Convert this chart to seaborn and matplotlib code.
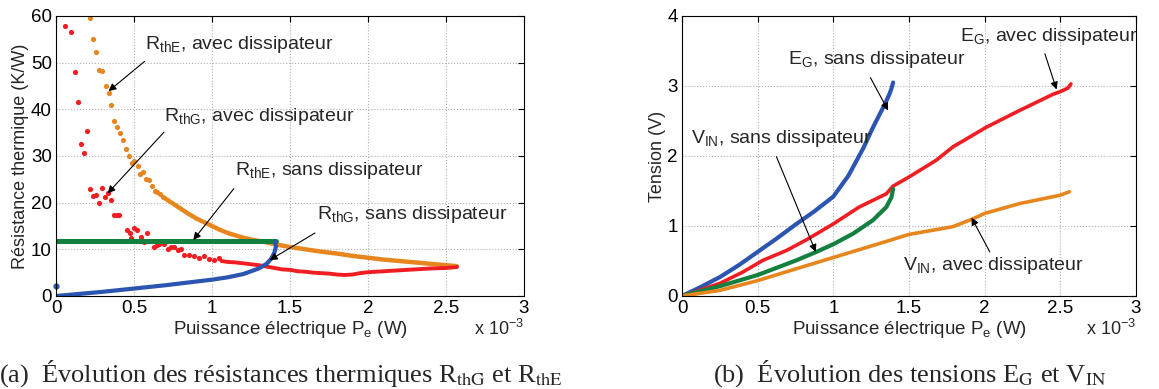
import numpy as np
import pandas as pd
import matplotlib
matplotlib.use("Agg")
import matplotlib.pyplot as plt
import seaborn as sns

# Puissance électrique en unités de 1e-3 W
# --- (a) résistances thermiques ---
rthe_avec_x = [0.217, 0.238, 0.258, 0.277, 0.296, 0.318, 0.337, 0.354, 0.373, 0.393,
               0.412, 0.431, 0.451, 0.47, 0.485, 0.5, 0.524, 0.541, 0.56, 0.579,
               0.594, 0.614, 0.633, 0.65, 0.667, 0.685]
rthe_avec_y = [59.6, 55.0, 52.3, 48.4, 48.2, 44.9, 43.5, 41.0, 37.6, 36.2,
               35.0, 33.5, 31.4, 30.1, 28.4, 28.9, 27.9, 26.1, 26.6, 25.0,
               24.8, 23.6, 22.4, 22.2, 21.8, 21.3]
rthe_avec_dense_x = [0.70, 0.75, 0.80, 0.85, 0.90, 0.95, 1.0, 1.05, 1.1, 1.15, 1.2, 1.25,
                     1.3, 1.35, 1.4, 1.45, 1.5, 1.6, 1.7, 1.8, 1.9, 2.0, 2.1, 2.2,
                     2.3, 2.4, 2.5, 2.57]
rthe_avec_dense_y = [20.9, 19.8, 18.7, 17.6, 16.6, 15.8, 15.0, 14.2, 13.5, 13.0, 12.5, 12.1,
                     11.8, 11.5, 11.1, 10.8, 10.5, 10.0, 9.5, 9.1, 8.6, 8.2, 7.8, 7.5,
                     7.2, 6.9, 6.6, 6.4]

rthg_avec_x = [0.06, 0.099, 0.12, 0.142, 0.159, 0.18, 0.2, 0.217, 0.238, 0.258,
               0.277, 0.296, 0.315, 0.335, 0.352, 0.371, 0.388, 0.406, 0.457, 0.474,
               0.483, 0.5, 0.521, 0.543, 0.564, 0.586, 0.629, 0.646, 0.663, 0.693,
               0.715, 0.736, 0.758, 0.783, 0.8, 0.822, 0.854, 0.886, 0.918, 0.951,
               0.983, 1.015, 1.047]
rthg_avec_y = [57.9, 56.6, 48.0, 41.6, 32.5, 30.6, 35.4, 23.0, 21.4, 21.7,
               19.9, 23.2, 21.2, 22.1, 20.6, 17.3, 17.3, 17.3, 14.1, 13.6,
               12.5, 14.6, 14.1, 12.6, 11.6, 13.4, 10.5, 10.9, 11.1, 11.2,
               10.1, 10.5, 10.5, 9.8, 10.1, 8.7, 8.7, 8.5, 8.2, 8.5,
               8.0, 7.8, 8.2]
rthg_avec_dense_x = [1.06, 1.1, 1.15, 1.2, 1.25, 1.3, 1.35, 1.4, 1.45, 1.5, 1.55, 1.6,
                     1.65, 1.7, 1.75, 1.8, 1.85, 1.9, 1.95, 2.0, 2.1, 2.2, 2.3, 2.4,
                     2.5, 2.57]
rthg_avec_dense_y = [7.5, 7.3, 7.2, 7.0, 6.8, 6.6, 6.3, 6.0, 5.7, 5.6, 5.3, 5.2,
                     5.0, 4.9, 4.8, 4.6, 4.5, 4.6, 4.9, 5.1, 5.3, 5.5, 5.7, 5.9,
                     6.0, 6.2]

rthg_sans_x = [0, 0.1, 0.2, 0.3, 0.4, 0.5, 0.6, 0.7, 0.8, 0.9, 1.0, 1.1, 1.2, 1.3,
               1.35, 1.38, 1.40, 1.41, 1.405]
rthg_sans_y = [0, 0.3, 0.6, 0.9, 1.25, 1.6, 1.95, 2.3, 2.7, 3.1, 3.5, 4.0, 4.7, 5.9,
               6.9, 8.0, 9.3, 10.6, 11.6]
rthg_sans_first = (0, 2.1)

rthe_sans_x = [0, 1.41]
rthe_sans_y = [11.7, 11.7]

# --- (b) tensions ---
eg_sans_x = [0, 0.125, 0.25, 0.375, 0.5, 0.625, 0.75, 0.875, 1.0, 1.1, 1.2, 1.26,
             1.30, 1.34, 1.37, 1.385, 1.395]
eg_sans_y = [0, 0.13, 0.27, 0.44, 0.63, 0.82, 1.02, 1.21, 1.42, 1.72, 2.12, 2.4,
             2.57, 2.74, 2.88, 2.97, 3.05]

eg_avec_x = [0, 0.1, 0.25, 0.4, 0.535, 0.69, 0.82, 1.0, 1.17, 1.35, 1.395, 1.5,
             1.68, 1.79, 2.01, 2.23, 2.45, 2.5, 2.55, 2.57]
eg_avec_y = [0, 0.07, 0.18, 0.34, 0.51, 0.65, 0.8, 1.03, 1.27, 1.46, 1.57, 1.7,
             1.94, 2.13, 2.41, 2.65, 2.88, 2.92, 2.97, 3.03]

vin_sans_x = [0, 0.25, 0.5, 0.756, 0.888, 1.0, 1.13, 1.26, 1.35, 1.384, 1.395]
vin_sans_y = [0, 0.14, 0.3, 0.51, 0.63, 0.74, 0.89, 1.08, 1.27, 1.41, 1.53]

vin_avec_x = [0, 0.25, 0.5, 0.756, 1.0, 1.26, 1.5, 1.79, 1.92, 2.0, 2.23, 2.5, 2.56]
vin_avec_y = [0, 0.08, 0.22, 0.39, 0.55, 0.72, 0.88, 0.99, 1.1, 1.18, 1.32, 1.44, 1.49]

BLEU = '#2B55B0'
VERT = '#13803F'
ROUGE = '#F01E23'
ORANGE = '#E8861E'

sns.set_theme(style="white")
plt.rcParams['font.family'] = ['Liberation Sans', 'DejaVu Sans']
plt.rcParams['mathtext.fontset'] = 'custom'
plt.rcParams['mathtext.rm'] = 'Liberation Sans'
plt.rcParams['mathtext.it'] = 'Liberation Sans:italic'

fig = plt.figure(figsize=(11.59, 3.89), dpi=100)
W, H = 1159, 389
ax1 = fig.add_axes([56 / W, 1 - 296 / H, 468 / W, 280 / H])
ax2 = fig.add_axes([682 / W, 1 - 296 / H, 454 / W, 280 / H])


def style_axes(ax, ylim, yticks, ylabel):
    ax.set_xlim(0, 3)
    ax.set_ylim(*ylim)
    ax.set_xticks([0, 0.5, 1, 1.5, 2, 2.5, 3])
    ax.set_xticklabels(['0', '0.5', '1', '1.5', '2', '2.5', '3'])
    ax.set_yticks(yticks)
    ax.grid(True, linestyle=':', color='#b0b0b0', linewidth=0.8)
    ax.set_axisbelow(True)
    for s in ax.spines.values():
        s.set_color('black')
        s.set_linewidth(0.8)
        s.set_visible(True)
    ax.tick_params(direction='in', length=4, width=0.8, labelsize=13.5,
                   top=True, right=True, pad=3, colors='black')
    ax.set_xlabel(r'Puissance électrique P$_{\mathrm{e}}$ (W)', fontsize=13.5, labelpad=1)
    ax.set_ylabel(ylabel, fontsize=13, labelpad=1)
    ax.text(1.0, -0.14, r'x 10$^{-3}$', transform=ax.transAxes, ha='right',
            va='baseline', fontsize=13)


def fleche(ax, queue, tete):
    ax.annotate('', xy=tete, xytext=queue,
                arrowprops=dict(arrowstyle='-|>', color='black', lw=0.8,
                                mutation_scale=11, shrinkA=0, shrinkB=0))


# (a)
sns.scatterplot(x=rthe_avec_x, y=rthe_avec_y, color=ORANGE, s=14, linewidth=0, ax=ax1)
sns.lineplot(x=rthe_avec_dense_x, y=rthe_avec_dense_y, color=ORANGE, lw=3.2, ax=ax1)
sns.scatterplot(x=rthg_avec_x, y=rthg_avec_y, color=ROUGE, s=14, linewidth=0, ax=ax1)
sns.lineplot(x=rthg_avec_dense_x, y=rthg_avec_dense_y, color=ROUGE, lw=2.8, ax=ax1)
sns.lineplot(x=rthe_sans_x, y=rthe_sans_y, color=VERT, lw=3.6, ax=ax1)
sns.lineplot(x=rthg_sans_x, y=rthg_sans_y, color=BLEU, lw=3.0, sort=False, ax=ax1)
ax1.plot(*rthg_sans_first, 'o', color=BLEU, ms=3.5, clip_on=False)
style_axes(ax1, (0, 60), [0, 10, 20, 30, 40, 50, 60], 'Résistance thermique (K/W)')

txt = dict(fontsize=14, va='baseline', ha='left')
ax1.text(0.569, 53.0, r'R$_{\mathrm{thE}}$, avec dissipateur', **txt)
ax1.text(0.69, 37.6, r'R$_{\mathrm{thG}}$, avec dissipateur', **txt)
ax1.text(1.149, 25.9, r'R$_{\mathrm{thE}}$, sans dissipateur', **txt)
ax1.text(1.671, 16.4, r'R$_{\mathrm{thG}}$, sans dissipateur', **txt)
fleche(ax1, (0.569, 50.3), (0.337, 43.9))
fleche(ax1, (0.692, 35.1), (0.331, 22.0))
fleche(ax1, (1.14, 23.0), (0.88, 12.0))
fleche(ax1, (1.66, 13.5), (1.37, 7.7))

# (b)
sns.lineplot(x=eg_sans_x, y=eg_sans_y, color=BLEU, lw=3.0, sort=False, ax=ax2)
sns.lineplot(x=eg_avec_x, y=eg_avec_y, color=ROUGE, lw=2.6, ax=ax2)
sns.lineplot(x=vin_sans_x, y=vin_sans_y, color=VERT, lw=3.0, sort=False, ax=ax2)
sns.lineplot(x=vin_avec_x, y=vin_avec_y, color=ORANGE, lw=2.6, ax=ax2)
style_axes(ax2, (0, 4), [0, 1, 2, 3, 4], 'Tension (V)')

ax2.text(0.70, 3.31, r'E$_{\mathrm{G}}$, sans dissipateur', **txt)
ax2.text(1.84, 3.64, r'E$_{\mathrm{G}}$, avec dissipateur', **txt)
ax2.text(0.062, 2.18, r'V$_{\mathrm{IN}}$, sans dissipateur', **txt)
ax2.text(1.461, 0.376, r'V$_{\mathrm{IN}}$, avec dissipateur', **txt)
fleche(ax2, (1.245, 3.12), (1.362, 2.65))
fleche(ax2, (2.398, 3.46), (2.475, 2.95))
fleche(ax2, (0.624, 1.99), (0.884, 0.63))
fleche(ax2, (2.034, 0.63), (1.913, 1.12))

# légendes des sous-figures
cap = dict(fontsize=19, family=['Liberation Serif', 'DejaVu Serif'],
           math_fontfamily='stix', ha='center', va='baseline')
fig.text(281 / W, 1 - 382 / H,
         r'(a)  Évolution des résistances thermiques R$_{\mathrm{thG}}$ et R$_{\mathrm{thE}}$', **cap)
fig.text(910 / W, 1 - 382 / H,
         r'(b)  Évolution des tensions E$_{\mathrm{G}}$ et V$_{\mathrm{IN}}$', **cap)

fig.savefig('out.png', dpi=100)
